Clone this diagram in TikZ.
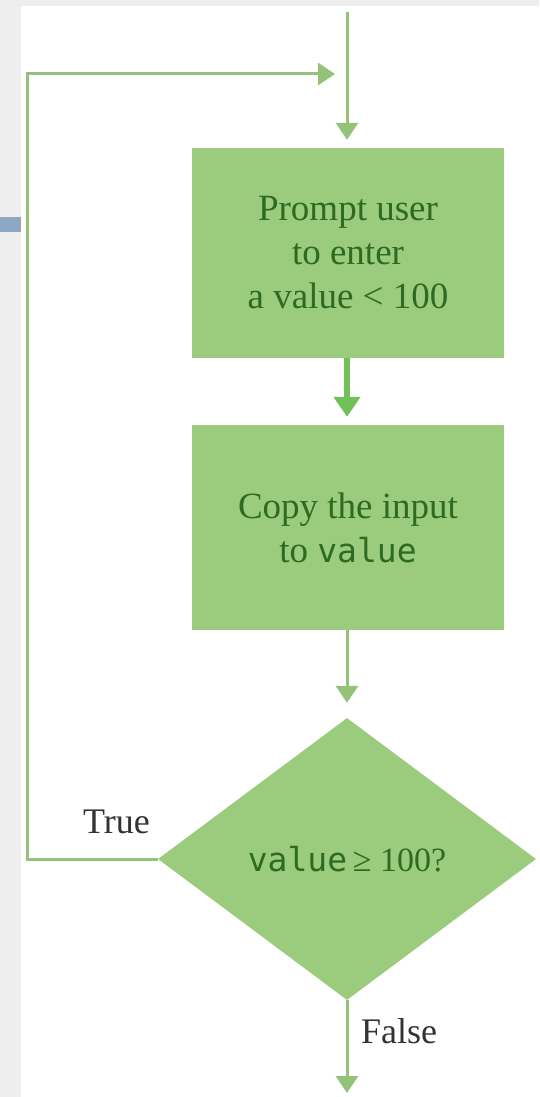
\documentclass[tikz,border=0pt]{standalone}
\usepackage{fontspec}
\setmainfont{Liberation Serif}
\newfontfamily\codefont{DejaVu Sans Mono}
\usetikzlibrary{shapes.geometric,arrows.meta}
\definecolor{pagegray}{HTML}{EEEEEE}
\definecolor{bluebar}{HTML}{8EA8C3}
\definecolor{boxfill}{HTML}{9BCB7C}
\definecolor{boxtext}{HTML}{2D6A22}
\definecolor{flowline}{HTML}{93C278}
\definecolor{flowbright}{HTML}{72C05A}
\definecolor{labeltext}{HTML}{333333}
\tikzset{
  procbox/.style={rectangle, fill=boxfill, draw=none, minimum width=312pt,
    inner sep=0pt, align=center, text=boxtext,
    font=\fontsize{37}{44}\selectfont},
  decision/.style={diamond, fill=boxfill, draw=none, minimum width=378pt,
    minimum height=282pt, inner sep=0pt, text=boxtext,
    font=\fontsize{34}{40}\selectfont},
  flow/.style={draw=flowline, line width=3pt,
    -{Triangle[width=22pt,length=17pt]}},
  flowthick/.style={draw=flowbright, line width=5.5pt,
    -{Triangle[width=26pt,length=20pt]}},
  lbl/.style={text=labeltext, inner sep=0pt, font=\fontsize{36}{40}\selectfont},
  code/.style={}
}
\begin{document}
\begin{tikzpicture}[x=1pt,y=-1pt]
\useasboundingbox (0,0) rectangle (539,1097);
\fill[pagegray] (0,0) rectangle (539,1097);
\fill[white] (21,6) rectangle (539,1097);
\fill[bluebar] (0,217) rectangle (21,232);

\node[procbox, minimum height=210pt] (prompt) at (348,253)
  {Prompt user\\to enter\\a value < 100};
\node[procbox, minimum height=205pt] (copy) at (348,527.5)
  {Copy the input\\to {\codefont\fontsize{33}{40}\selectfont value}};
\node[decision] (test) at (347,859)
  {{\codefont\fontsize{33}{40}\selectfont value}\,≥ 100?};

\coordinate (start) at (347,12);
\coordinate (merge) at (335,74);
\coordinate (cornerlow) at (27,859);
\coordinate (cornerhigh) at (27,74);
\coordinate (finish) at (347,1093);

\draw[flow, shorten >=8pt] (start) -- (start |- prompt.north);
\draw[flowthick, shorten >=8pt] (prompt.south -| 347,0) -- (copy.north -| 347,0);
\draw[flow, shorten >=15pt] (copy.south -| 347,0) -- (test.north);
\draw[flow] (test.west) -- (cornerlow) -- (cornerhigh) -- (merge);
\draw[flow] (test.south) -- (finish);

\node[lbl, anchor=base east] (truelbl) at (150,833) {True};
\node[lbl, anchor=base west] (falselbl) at (361,1043) {False};
\end{tikzpicture}
\end{document}
